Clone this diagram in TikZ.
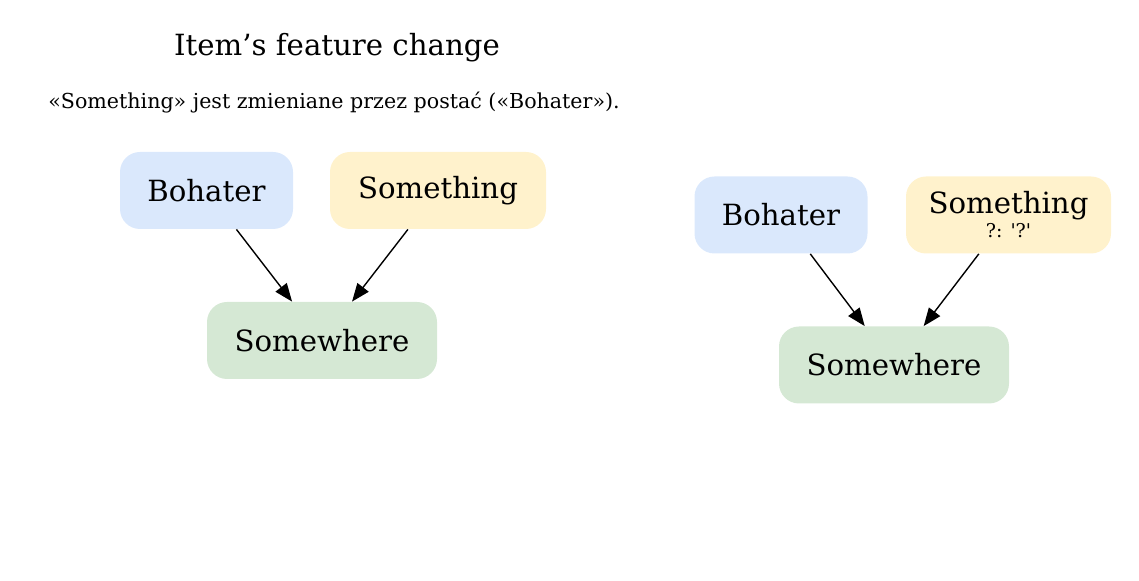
\documentclass[tikz,border=0pt]{standalone}
\usepackage{fontspec}
\setmainfont{DejaVu Serif}
\usetikzlibrary{arrows.meta}
\definecolor{herobg}{HTML}{DAE8FC}
\definecolor{itembg}{HTML}{FFF2CC}
\definecolor{placebg}{HTML}{D5E8D4}
\begin{document}
\begin{tikzpicture}[
    x=0.5pt,y=-0.5pt,
    box/.style={rounded corners=10pt,minimum height=38.5pt,inner sep=2pt,align=center,font=\fontsize{14.6}{16}\selectfont},
    hero/.style={box,fill=herobg,minimum width=86.5pt},
    item/.style={box,fill=itembg},
    place/.style={box,fill=placebg,minimum width=115pt},
    link/.style={-{Triangle[length=9pt,width=7pt]},line width=0.7pt}
]
\useasboundingbox (0,0) rectangle (1139,581);
\node[font=\fontsize{14.6}{16}\selectfont] (title) at (337,48) {Item’s feature change};
\node[font=\fontsize{10.3}{12}\selectfont] (sub) at (334,103) {«Something» jest zmieniane przez postać («Bohater»).};

\node[hero] (hero1) at (206.5,190.5) {Bohater};
\node[item,minimum width=108pt] (item1) at (438,190.5) {Something};
\node[place] (place1) at (322,340.5) {Somewhere};
\draw[link] (hero1)--(place1);
\draw[link] (item1)--(place1);

\node[hero] (hero2) at (781,215) {Bohater};
\node[item,minimum width=102.5pt] (item2) at (1008.5,215) {Something\\[-4pt]{\fontsize{9.5}{10}\selectfont ?: \textquotesingle?\textquotesingle}};
\node[place] (place2) at (894,365) {Somewhere};
\draw[link] (hero2)--(place2);
\draw[link] (item2)--(place2);
\end{tikzpicture}
\end{document}
